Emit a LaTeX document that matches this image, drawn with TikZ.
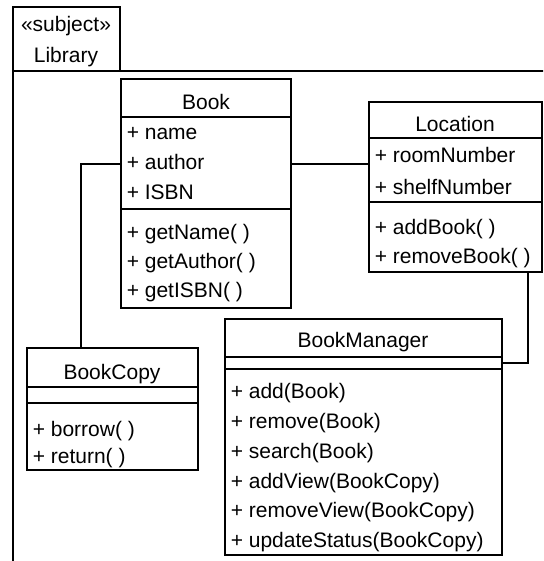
\documentclass[tikz,border=0pt]{standalone}
\usepackage{fontspec}
\setmainfont{Liberation Sans}
\begin{document}
\begin{tikzpicture}[x=1pt,y=-1pt,
  line width=1.6pt,
  cls/.style={draw, anchor=north west, inner sep=0pt, outer sep=0pt},
  member/.style={anchor=base west, inner sep=0pt, font=\fontsize{21}{24}\selectfont},
  ctitle/.style={anchor=base, inner sep=0pt, font=\fontsize{21}{24}\selectfont},
  link/.style={draw, line width=1.6pt}]
\fill[white] (0,0) rectangle (543,561);
\clip (0,0) rectangle (543,561);

% subject frame with its name tab
\node[cls, minimum width=107pt, minimum height=64pt] (tab) at (13,7) {};
\node[ctitle] (stereo) at (66,32) {«subject»};
\node[ctitle] (libname) at (66,63) {Library};
\draw (13,71) -- (560,71);
\draw (13,71) -- (13,580);

% class Book
\node[cls, minimum width=170pt, minimum height=229pt] (book) at (121,79) {};
\draw (121,117) -- (291,117);
\draw (121,209) -- (291,209);
\node[ctitle] (bookT) at (206,110) {Book};
\node[member] (b1) at (126,140) {+ name};
\node[member] (b2) at (126,170) {+ author};
\node[member] (b3) at (126,200) {+ ISBN};
\node[member] (b4) at (126,239) {+ getName( )};
\node[member] (b5) at (126,268) {+ getAuthor( )};
\node[member] (b6) at (126,297) {+ getISBN( )};

% class Location
\node[cls, minimum width=173pt, minimum height=170pt] (loc) at (369,102) {};
\draw (369,138) -- (542,138);
\draw (369,202) -- (542,202);
\node[ctitle] (locT) at (455,132) {Location};
\node[member] (l1) at (374,163) {+ roomNumber};
\node[member] (l2) at (374,194) {+ shelfNumber};
\node[member] (l3) at (374,234) {+ addBook( )};
\node[member] (l4) at (374,263) {+ removeBook( )};

% class BookCopy
\node[cls, minimum width=171pt, minimum height=122pt] (copy) at (27,348) {};
\draw (27,387) -- (198,387);
\draw (27,403) -- (198,403);
\node[ctitle] (copyT) at (112,379) {BookCopy};
\node[member] (c1) at (32,436) {+ borrow( )};
\node[member] (c2) at (32,463) {+ return( )};

% class BookManager
\node[cls, minimum width=277pt, minimum height=236pt] (mgr) at (225,319) {};
\draw (225,357) -- (502,357);
\draw (225,369) -- (502,369);
\node[ctitle] (mgrT) at (363,347) {BookManager};
\node[member] (m1) at (230,398) {+ add(Book)};
\node[member] (m2) at (230,428) {+ remove(Book)};
\node[member] (m3) at (230,458) {+ search(Book)};
\node[member] (m4) at (230,488) {+ addView(BookCopy)};
\node[member] (m5) at (230,517) {+ removeView(BookCopy)};
\node[member] (m6) at (230,547) {+ updateStatus(BookCopy)};

% associations
\coordinate (bendA) at (81,164);
\coordinate (bendB) at (528,363);
\draw[link] (book.west |- bendA) -- (bendA) -- (bendA |- copy.north);
\draw[link] (book.east |- bendA) -- (loc.west |- bendA);
\draw[link] (loc.south -| bendB) -- (bendB) -- (mgr.east |- bendB);
\end{tikzpicture}
\end{document}
